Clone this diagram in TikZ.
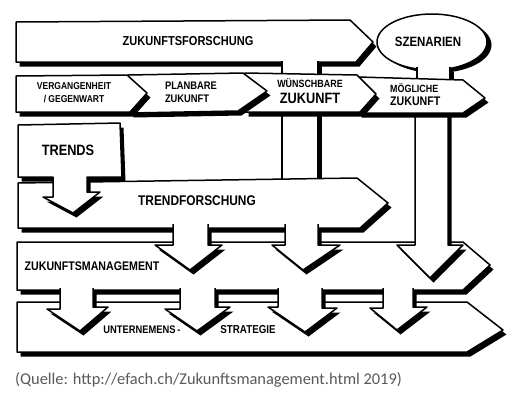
\documentclass[tikz,border=0pt]{standalone}
\usepackage{fontspec}
\newfontfamily\hand[FakeStretch=0.85]{Liberation Sans}
\newfontfamily\capfont{Carlito}
\usetikzlibrary{shadows}
\definecolor{capgray}{HTML}{595959}
\newcommand\openshp[1]{\path[shf] #1 -- cycle; \draw[ol] #1;}
\begin{document}
\begin{tikzpicture}[x=1pt,y=-1pt,
  sh/.style={fill=white,draw=black,line width=1.5pt,line join=round,
    drop shadow={shadow xshift=3.5pt,shadow yshift=-4.5pt,fill=black,opacity=1}},
  shf/.style={fill=white,
    drop shadow={shadow xshift=3.5pt,shadow yshift=-4.5pt,fill=black,opacity=1}},
  ol/.style={draw=black,line width=1.5pt,line join=round},
  ell/.style={fill=white,draw=black,line width=1.5pt,
    drop shadow={shadow xshift=4.5pt,shadow yshift=-3pt,fill=black,opacity=1}},
  lbl/.style={inner sep=0pt,align=center}]
\useasboundingbox[fill=white] (0,0) rectangle (514,400);

% Zukunftsmanagement band and Unternehmensstrategie band
\path[sh] (17,242) -- (463,242) -- (490,265) -- (463,290) -- (17,290) -- cycle;
\path[sh] (17,302) -- (467,302) -- (503,330) -- (467,352) -- (17,352) -- cycle;

% arrows from Zukunftsmanagement to Unternehmensstrategie
\openshp{(60,288) -- (60,309) -- (47,309) -- (80,331) -- (108,307) -- (93,307) -- (93,288)}
\openshp{(180,288) -- (180,309) -- (165,309) -- (197,331) -- (230,307) -- (215,307) -- (215,288)}
\openshp{(278,288) -- (278,307) -- (268,307) -- (305,332) -- (337,308) -- (322,308) -- (322,288)}
\openshp{(383,288) -- (383,308) -- (370,308) -- (397,330) -- (427,307) -- (413,307) -- (413,288)}

% shaft Wuenschbare -> Trendforschung
\path[sh] (282,100) rectangle (318,185);

% Trendforschung band
\path[sh] (18,183) -- (357,178) -- (388,203) -- (360,228) -- (18,228) -- cycle;

% Trends box with arrow
\path[sh] (18,125) -- (120,123) -- (122,177) -- (87,177) -- (87,192) -- (100,192)
  -- (73,213) -- (43,197) -- (53,197) -- (53,177) -- (18,177) -- cycle;

% arrows from Trendforschung to Zukunftsmanagement
\openshp{(173,224) -- (173,245) -- (155,245) -- (190,270) -- (222,245) -- (208,245) -- (208,224)}
\openshp{(285,224) -- (285,245) -- (272,245) -- (303,270) -- (340,245) -- (318,245) -- (318,224)}
% arrow from Moegliche Zukunft to Zukunftsmanagement
\openshp{(415,105) -- (415,245) -- (397,245) -- (430,278) -- (463,245) -- (448,245) -- (448,105)}

% Zukunftsforschung band and Szenarien
\path[sh] (16,22) -- (350,20) -- (373,42) -- (356,62) -- (16,62) -- cycle;
\path[ell] (432,42) ellipse [x radius=55, y radius=28];
\openshp{(282,61) -- (282,80) -- (318,80) -- (318,61)}
\openshp{(417,67) -- (417,84) -- (450,84) -- (450,67)}

% second row
\path[sh] (358,77) -- (463,80) -- (485,98) -- (463,113) -- (358,113) -- cycle;
\path[sh] (245,73) -- (357,75) -- (376,94) -- (360,112) -- (245,112) -- cycle;
\path[sh] (128,75) -- (243,73) -- (267,91) -- (238,111) -- (130,113) -- cycle;
\path[sh] (16,76) -- (127,75) -- (147,93) -- (130,112) -- (16,112) -- cycle;

% labels
\node[lbl,font=\hand\bfseries\fontsize{13}{15}\selectfont] (tzf) at (188,41) {ZUKUNFTSFORSCHUNG};
\node[lbl,font=\hand\bfseries\fontsize{13.5}{15}\selectfont] (tsz) at (428,42) {SZENARIEN};
\node[lbl,font=\hand\bfseries\fontsize{10}{13}\selectfont] (tvg) at (74,93) {VERGANGENHEIT\\/ GEGENWART};
\node[lbl,align=left,font=\hand\bfseries\fontsize{11}{13}\selectfont] (tpz) at (191,92) {PLANBARE\\ZUKUNFT};
\node[lbl,font=\hand\bfseries\fontsize{10.5}{12}\selectfont] (tw1) at (310,83) {WÜNSCHBARE};
\node[lbl,font=\hand\bfseries\fontsize{15}{16}\selectfont] (tw2) at (310,98) {ZUKUNFT};
\node[lbl,anchor=west,font=\hand\bfseries\fontsize{10.5}{12}\selectfont] (tm1) at (390,88) {MÖGLICHE};
\node[lbl,anchor=west,font=\hand\bfseries\fontsize{12.5}{14}\selectfont] (tm2) at (390,101) {ZUKUNFT};
\node[lbl,font=\hand\bfseries\fontsize{15}{16}\selectfont] (ttr) at (68,150) {TRENDS};
\node[lbl,font=\hand\bfseries\fontsize{14}{16}\selectfont] (ttf) at (197,201) {TRENDFORSCHUNG};
\node[lbl,font=\hand\bfseries\fontsize{12.5}{14}\selectfont] (tzm) at (92,266) {ZUKUNFTSMANAGEMENT};
\node[lbl,font=\hand\bfseries\fontsize{11}{13}\selectfont] (tu1) at (142,330) {UNTERNEMENS\,-};
\node[lbl,font=\hand\bfseries\fontsize{11.5}{13}\selectfont] (tu2) at (248,330) {STRATEGIE};
\node[lbl,anchor=base west,text=capgray,font=\capfont\fontsize{16.4}{19}\selectfont] (cap) at (15,384)
  {(Quelle: http://efach.ch/Zukunftsmanagement.html 2019)};
\end{tikzpicture}
\end{document}
